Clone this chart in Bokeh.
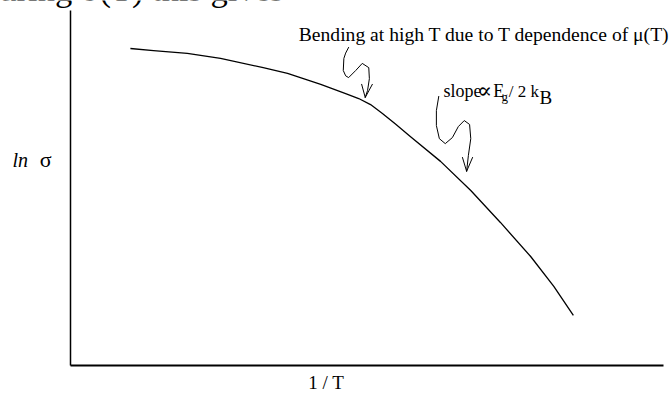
from bokeh.plotting import figure
from bokeh.models import Range1d, FixedTicker, Label, LinearAxis
from bokeh.embed import file_html
from bokeh.resources import INLINE

# ln(sigma) against 1/T, arbitrary units
inv_T = [1.01, 1.40, 1.97, 2.53, 3.25, 3.66, 4.22, 4.64, 4.86, 5.06, 5.26, 5.48,
         5.73, 6.24, 6.75, 7.25, 7.76, 8.15, 8.48]
ln_sigma = [8.93, 8.87, 8.79, 8.65, 8.39, 8.23, 7.92, 7.66, 7.52, 7.35, 7.10, 6.80,
            6.45, 5.75, 4.93, 4.03, 3.07, 2.23, 1.41]

# hand-drawn pointer from the "bending" note down to the curve
bend_x = [4.69, 4.64, 4.61, 4.60, 4.64, 4.69, 4.81, 4.92, 5.03, 5.04, 5.01, 4.97]
bend_y = [8.96, 8.80, 8.65, 8.31, 8.16, 8.11, 8.31, 8.51, 8.39, 8.08, 7.75, 7.55]
bend_head_x = [4.91, 4.97, 5.09]
bend_head_y = [7.92, 7.55, 7.92]

# hand-drawn pointer from the slope note down to the straight part
slope_x = [6.21, 6.17, 6.17, 6.22, 6.32, 6.44, 6.54, 6.64, 6.73, 6.75, 6.71, 6.68]
slope_y = [7.58, 7.18, 6.76, 6.39, 6.25, 6.42, 6.73, 6.90, 6.79, 6.39, 5.92, 5.47]
slope_head_x = [6.61, 6.68, 6.78]
slope_head_y = [5.86, 5.47, 5.86]

SERIF = "Liberation Serif"

# the plotting frame fills the page; axes sit at the data origin
p = figure(width=672, height=396, output_backend="svg", toolbar_location=None,
           x_range=Range1d(-1.1804, 10.1518), y_range=Range1d(-0.8732, 10.2817),
           x_axis_location=None, y_axis_location=None,
           min_border=0)
p.outline_line_color = None
p.grid.visible = False
p.background_fill_color = "white"
p.border_fill_color = "white"

xaxis = LinearAxis(fixed_location=0, bounds=(0, 10), axis_line_width=1.8)
yaxis = LinearAxis(fixed_location=0, bounds=(0, 10), axis_line_width=1.5)
for ax in (xaxis, yaxis):
    ax.ticker = FixedTicker(ticks=[])
    ax.axis_line_color = "black"
    ax.major_tick_line_color = None
    ax.minor_tick_line_color = None
    ax.major_tick_out = 0
    ax.major_label_text_font_size = "0px"
p.add_layout(xaxis, "below")
p.add_layout(yaxis, "left")

p.line(inv_T, ln_sigma, line_color="black", line_width=1.3, line_join="round")

for xs, ys in ((bend_x, bend_y), (bend_head_x, bend_head_y),
               (slope_x, slope_y), (slope_head_x, slope_head_y)):
    p.line(xs, ys, line_color="black", line_width=1, line_join="round", line_cap="round")


def add_text(x, y, text, size, style="normal", align="left", font=SERIF):
    p.add_layout(Label(x=x, y=y, text=text, text_font=font, text_font_size=f"{size}px",
                       text_font_style=style, text_color="black",
                       text_align=align, text_baseline="alphabetic"))


# running text of the page above the figure
add_text(3.59, 10.60, "Measuring σ(T) this gives", 34.5, align="right")

add_text(3.85, 9.33, "Bending at high T due to T dependence of μ(T)", 19.6)

add_text(6.29, 7.73, "slope", 18)
add_text(6.86, 7.76, "∝", 22, font="DejaVu Serif")
add_text(7.13, 7.73, "E", 18)
add_text(7.27, 7.57, "g", 13)
add_text(7.39, 7.72, "/ 2 k", 17)
add_text(7.91, 7.54, "B", 19)

add_text(-0.98, 5.78, "ln", 20, style="italic")
add_text(-0.52, 5.80, "σ", 22)
add_text(4.01, -0.48, "1 / T", 19)

open("out.html", "w").write(file_html(p, INLINE))
